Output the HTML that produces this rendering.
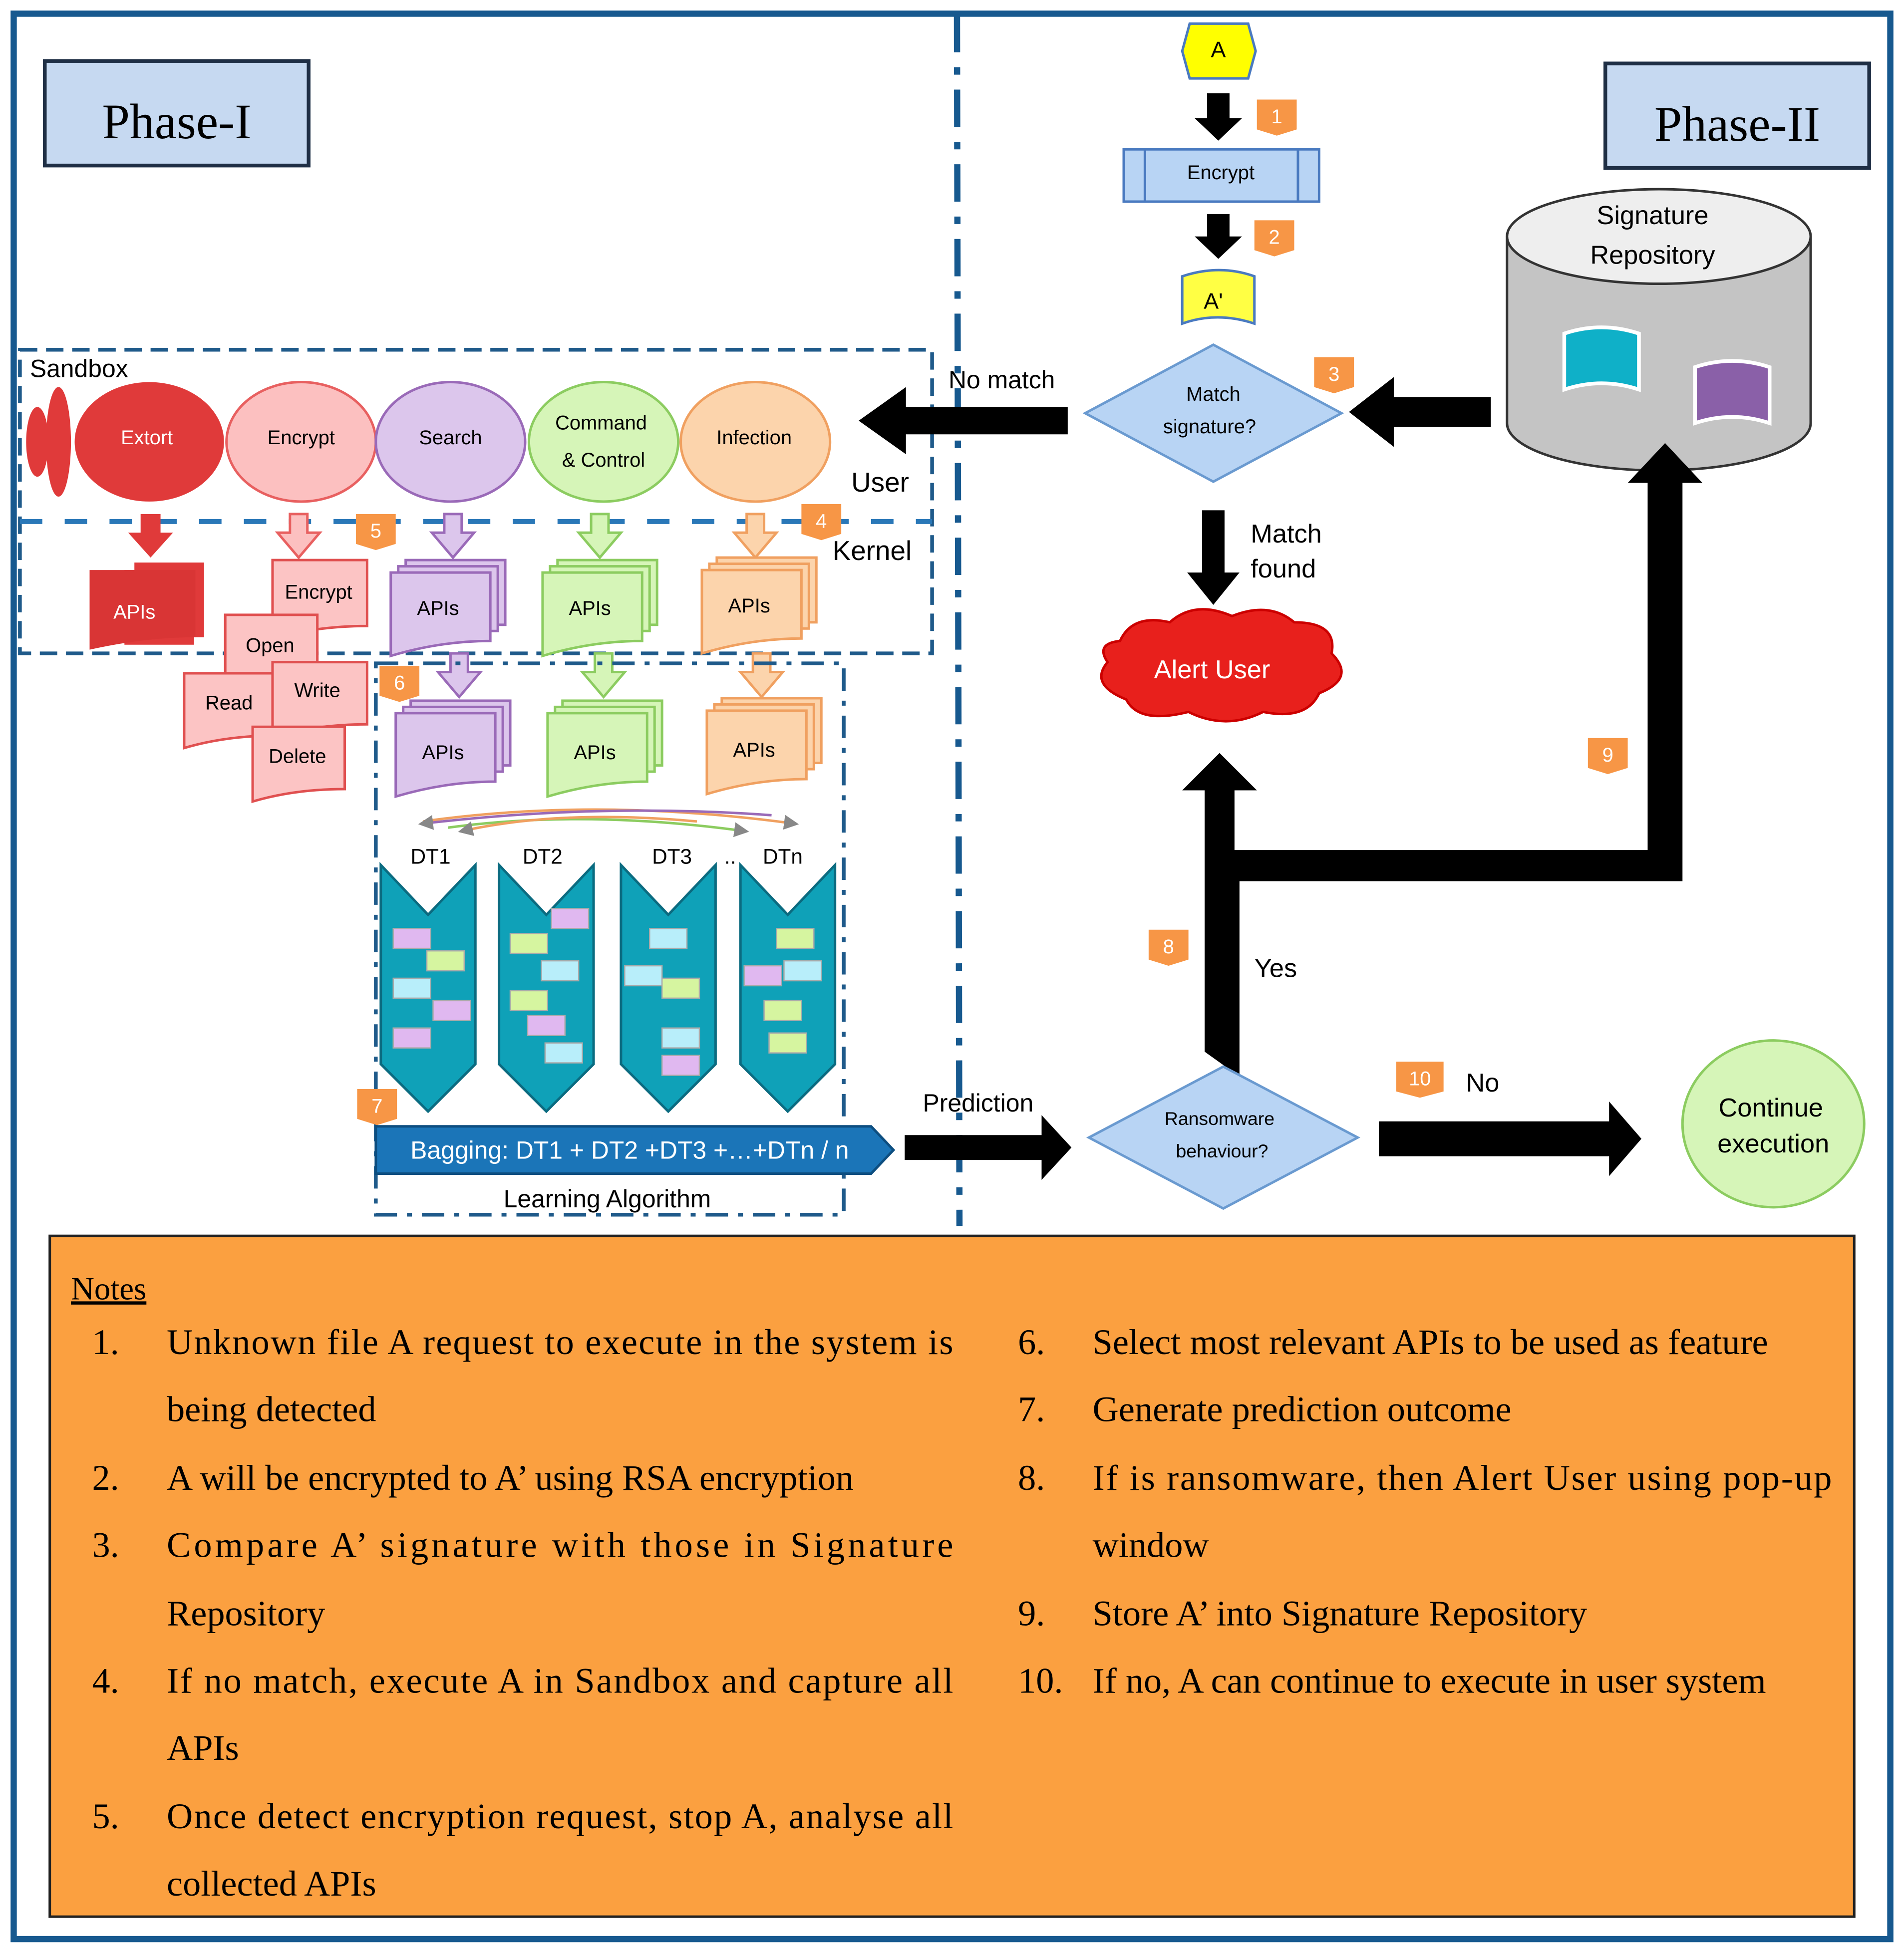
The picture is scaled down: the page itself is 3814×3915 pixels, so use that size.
<!DOCTYPE html>
<html><head><meta charset="utf-8"><style>
html,body{margin:0;padding:0;background:#fff}
svg{display:block}
text{font-family:"Liberation Sans",sans-serif}
text.s,.s text{font-family:"Liberation Serif",serif}
</style></head><body>
<svg width="3814" height="3915" viewBox="0 0 1530 1570" preserveAspectRatio="none" xmlns="http://www.w3.org/2000/svg">
<defs>
<marker id="ah" markerWidth="6" markerHeight="6" refX="5" refY="3" orient="auto"><path d="M0,0L6,3L0,6z" fill="#888"/></marker>
</defs>
<rect x="0" y="0" width="1530" height="1570" fill="#fff"/>
<rect x="11" y="11" width="1508" height="1547" fill="none" stroke="#17598f" stroke-width="5"/>
<line x1="769" y1="12" x2="771" y2="985" stroke="#17598f" stroke-width="5" stroke-dasharray="30,12,6,12"/>
<rect x="36" y="49" width="212" height="84" fill="#c6d9f1" stroke="#1f2f45" stroke-width="3"/>
<text x="142" y="111" class="s" font-size="40" text-anchor="middle">Phase-I</text>
<rect x="1290" y="51" width="212" height="84" fill="#c6d9f1" stroke="#1f2f45" stroke-width="3"/>
<text x="1396" y="113" class="s" font-size="40" text-anchor="middle">Phase-II</text>
<rect x="16" y="281" width="733" height="244" fill="none" stroke="#1f5a8a" stroke-width="3" stroke-dasharray="14,7"/>
<line x1="16" y1="419" x2="749" y2="419" stroke="#2a78b8" stroke-width="4" stroke-dasharray="18,18"/>
<text x="24" y="303" font-size="20">Sandbox</text>
<text x="684" y="395" font-size="22">User</text>
<text x="669" y="450" font-size="22">Kernel</text>
<ellipse cx="30" cy="355" rx="9" ry="28" fill="#e03a3a"/>
<ellipse cx="47" cy="355" rx="10" ry="44" fill="#e03a3a"/>
<ellipse cx="120" cy="355" rx="60" ry="48" fill="#e03a3a"/>
<text x="118" y="357" font-size="16" fill="#fff" text-anchor="middle">Extort</text>
<ellipse cx="242" cy="355" rx="60" ry="48" fill="#fcc0c0" stroke="#e86060" stroke-width="2"/>
<text x="242" y="357" font-size="16" text-anchor="middle">Encrypt</text>
<ellipse cx="362" cy="355" rx="60" ry="48" fill="#dcc6ec" stroke="#9a6ab8" stroke-width="2"/>
<text x="362" y="357" font-size="16" text-anchor="middle">Search</text>
<ellipse cx="485" cy="355" rx="60" ry="48" fill="#d6f5b8" stroke="#8ccc60" stroke-width="2"/>
<text x="483" y="345" font-size="16" text-anchor="middle">Command</text>
<text x="485" y="375" font-size="16" text-anchor="middle">&amp; Control</text>
<ellipse cx="607" cy="355" rx="60" ry="48" fill="#fcd4ac" stroke="#f0a060" stroke-width="2"/>
<text x="606" y="357" font-size="16" text-anchor="middle">Infection</text>
<g stroke-width="2">
<path d="M113,413h16v15h10l-18,20l-18,-20h10z" fill="#e03a3a"/>
<path d="M233,413h14v15h10l-17,20l-17,-20h10z" fill="#fcc0c0" stroke="#e86060"/>
<path d="M357,413h14v15h10l-17,20l-17,-20h10z" fill="#dcc6ec" stroke="#9a6ab8"/>
<path d="M475,413h14v15h10l-17,20l-17,-20h10z" fill="#d6f5b8" stroke="#8ccc60"/>
<path d="M600,413h14v15h10l-17,20l-17,-20h10z" fill="#fcd4ac" stroke="#f0a060"/>
<path d="M362,525h14v15h10l-17,20l-17,-20h10z" fill="#dcc6ec" stroke="#9a6ab8"/>
<path d="M478,525h14v15h10l-17,20l-17,-20h10z" fill="#d6f5b8" stroke="#8ccc60"/>
<path d="M605,525h14v15h10l-17,20l-17,-20h10z" fill="#fcd4ac" stroke="#f0a060"/>
</g>
<g stroke-width="2">
<path d="M108,452h56v60h-56z" fill="#e03a3a"/><path d="M100,458h56v60h-56z" fill="#e03a3a"/>
<path d="M72,458h85v54q-40,0 -85,10z" fill="#d93535"/>
<text x="108" y="497" font-size="16" fill="#fff" text-anchor="middle">APIs</text>
<g fill="#dcc6ec" stroke="#9a6ab8"><rect x="326" y="450" width="80" height="52"/><rect x="320" y="455" width="80" height="52"/><path d="M314,460h80v55q-40,0 -80,12z"/></g>
<text x="352" y="494" font-size="16" text-anchor="middle">APIs</text>
<g fill="#d6f5b8" stroke="#8ccc60"><rect x="448" y="450" width="80" height="52"/><rect x="442" y="455" width="80" height="52"/><path d="M436,460h80v55q-40,0 -80,12z"/></g>
<text x="474" y="494" font-size="16" text-anchor="middle">APIs</text>
<g fill="#fcd4ac" stroke="#f0a060"><rect x="576" y="448" width="80" height="52"/><rect x="570" y="453" width="80" height="52"/><path d="M564,458h80v55q-40,0 -80,12z"/></g>
<text x="602" y="492" font-size="16" text-anchor="middle">APIs</text>
<g fill="#dcc6ec" stroke="#9a6ab8"><rect x="330" y="563" width="80" height="52"/><rect x="324" y="568" width="80" height="52"/><path d="M318,573h80v55q-40,0 -80,12z"/></g>
<text x="356" y="610" font-size="16" text-anchor="middle">APIs</text>
<g fill="#d6f5b8" stroke="#8ccc60"><rect x="452" y="563" width="80" height="52"/><rect x="446" y="568" width="80" height="52"/><path d="M440,573h80v55q-40,0 -80,12z"/></g>
<text x="478" y="610" font-size="16" text-anchor="middle">APIs</text>
<g fill="#fcd4ac" stroke="#f0a060"><rect x="580" y="561" width="80" height="52"/><rect x="574" y="566" width="80" height="52"/><path d="M568,571h80v55q-40,0 -80,12z"/></g>
<text x="606" y="608" font-size="16" text-anchor="middle">APIs</text>
<g fill="#fcc4c4" stroke="#e05050">
<path d="M219,450h76v53q-40,0 -76,10z"/>
<path d="M181,494h74v50q-40,0 -74,10z"/>
<path d="M148,541h74v50q-40,0 -74,10z"/>
<path d="M219,532h76v50q-40,0 -76,10z"/>
<path d="M203,584h74v50q-40,0 -74,10z"/>
</g>
<text x="256" y="481" font-size="16" text-anchor="middle">Encrypt</text>
<text x="217" y="524" font-size="16" text-anchor="middle">Open</text>
<text x="184" y="570" font-size="16" text-anchor="middle">Read</text>
<text x="255" y="560" font-size="16" text-anchor="middle">Write</text>
<text x="239" y="613" font-size="16" text-anchor="middle">Delete</text>
</g>
<rect x="302" y="533" width="376" height="443" fill="none" stroke="#1f5a8a" stroke-width="3" stroke-dasharray="18,8,4,8"/>
<g fill="none" stroke-width="2" marker-end="url(#ah)">
<path d="M340,660 Q480,640 640,662" stroke="#f0a060"/>
<path d="M620,655 Q480,645 338,662" stroke="#9a6ab8"/>
<path d="M360,665 Q470,650 600,668" stroke="#8ccc60"/>
<path d="M560,660 Q450,650 370,668" stroke="#f0a060"/>
</g>
<text x="346" y="694" font-size="17" text-anchor="middle">DT1</text>
<text x="436" y="694" font-size="17" text-anchor="middle">DT2</text>
<text x="540" y="694" font-size="17" text-anchor="middle">DT3</text>
<text x="582" y="694" font-size="17">..</text>
<text x="629" y="694" font-size="17" text-anchor="middle">DTn</text>
<g fill="#0fa1b8" stroke="#0b6b80" stroke-width="2">
<path d="M306,695l38,40l38,-40v160l-38,38l-38,-38z"/>
<path d="M401,695l38,40l38,-40v160l-38,38l-38,-38z"/>
<path d="M499,695l38,40l38,-40v160l-38,38l-38,-38z"/>
<path d="M595,695l38,40l38,-40v160l-38,38l-38,-38z"/>
</g>
<g stroke="#aaa" stroke-width="1">
<rect x="316" y="746" width="30" height="16" fill="#e0b8f0"/><rect x="343" y="764" width="30" height="16" fill="#d6f5a0"/><rect x="316" y="786" width="30" height="16" fill="#b8eefa"/><rect x="348" y="804" width="30" height="16" fill="#e0b8f0"/><rect x="316" y="826" width="30" height="16" fill="#e0b8f0"/>
<rect x="443" y="730" width="30" height="16" fill="#e0b8f0"/><rect x="410" y="750" width="30" height="16" fill="#d6f5a0"/><rect x="435" y="772" width="30" height="16" fill="#b8eefa"/><rect x="410" y="796" width="30" height="16" fill="#d6f5a0"/><rect x="424" y="816" width="30" height="16" fill="#e0b8f0"/><rect x="438" y="838" width="30" height="16" fill="#b8eefa"/>
<rect x="522" y="746" width="30" height="16" fill="#b8eefa"/><rect x="502" y="776" width="30" height="16" fill="#b8eefa"/><rect x="532" y="786" width="30" height="16" fill="#d6f5a0"/><rect x="532" y="826" width="30" height="16" fill="#b8eefa"/><rect x="532" y="848" width="30" height="16" fill="#e0b8f0"/>
<rect x="624" y="746" width="30" height="16" fill="#d6f5a0"/><rect x="598" y="776" width="30" height="16" fill="#e0b8f0"/><rect x="630" y="772" width="30" height="16" fill="#b8eefa"/><rect x="614" y="804" width="30" height="16" fill="#d6f5a0"/><rect x="618" y="830" width="30" height="16" fill="#d6f5a0"/>
</g>
<path d="M302,905h398l18,19l-18,19h-398z" fill="#1b75b8" stroke="#0d4e80" stroke-width="2"/>
<text x="506" y="931" font-size="20" fill="#fff" text-anchor="middle">Bagging: DT1 + DT2 +DT3 +…+DTn / n</text>
<text x="488" y="970" font-size="20" text-anchor="middle">Learning Algorithm</text>
<g font-size="16" fill="#fff" text-anchor="middle">
<path d="M1010,80h32v24l-16,5l-16,-5z" fill="#f79646"/><text x="1026" y="99">1</text>
<path d="M1008,177h32v24l-16,5l-16,-5z" fill="#f79646"/><text x="1024" y="196">2</text>
<path d="M1056,287h32v24l-16,5l-16,-5z" fill="#f79646"/><text x="1072" y="306">3</text>
<path d="M644,405h32v24l-16,5l-16,-5z" fill="#f79646"/><text x="660" y="424">4</text>
<path d="M286,413h32v24l-16,5l-16,-5z" fill="#f79646"/><text x="302" y="432">5</text>
<path d="M305,535h32v24l-16,5l-16,-5z" fill="#f79646"/><text x="321" y="554">6</text>
<path d="M287,875h32v24l-16,5l-16,-5z" fill="#f79646"/><text x="303" y="894">7</text>
<path d="M923,747h32v24l-16,5l-16,-5z" fill="#f79646"/><text x="939" y="766">8</text>
<path d="M1276,593h32v24l-16,5l-16,-5z" fill="#f79646"/><text x="1292" y="612">9</text>
<path d="M1122,853h38v24l-19,5l-19,-5z" fill="#f79646"/><text x="1141" y="872">10</text>
</g>
<path d="M956,19h47l6,22l-6,22h-47l-6,-22z" fill="#ffff00" stroke="#4a7ac0" stroke-width="2"/>
<text x="979" y="46" font-size="18" text-anchor="middle">A</text>
<path d="M970,75h18v20h10l-19,18l-19,-18h10z" fill="#000"/>
<rect x="903" y="120" width="157" height="42" fill="#b8d4f4" stroke="#4a7ac0" stroke-width="2"/>
<line x1="920" y1="120" x2="920" y2="162" stroke="#4a7ac0" stroke-width="2"/><line x1="1043" y1="120" x2="1043" y2="162" stroke="#4a7ac0" stroke-width="2"/>
<text x="981" y="144" font-size="16" text-anchor="middle">Encrypt</text>
<path d="M970,172h18v18h10l-19,18l-19,-18h10z" fill="#000"/>
<path d="M950,222q30,-10 58,0v38q-30,-10 -58,0z" fill="#ffff44" stroke="#4a7ac0" stroke-width="2"/>
<text x="975" y="248" font-size="18" text-anchor="middle">A'</text>
<path d="M975,277l103,55l-103,55l-103,-55z" fill="#b8d4f4" stroke="#6a9ad0" stroke-width="2"/>
<text x="975" y="322" font-size="16" text-anchor="middle">Match</text>
<text x="972" y="348" font-size="16" text-anchor="middle">signature?</text>
<path d="M858,327v22h-130v16l-38,-27l38,-27v16z" fill="#000"/>
<text x="805" y="312" font-size="20" text-anchor="middle">No match</text>
<path d="M1198,319v24h-78v16l-36,-28l36,-28v16z" fill="#000"/>
<path d="M966,410h18v50h12l-21,26l-21,-26h12z" fill="#000"/>
<text x="1005" y="436" font-size="21">Match</text><text x="1005" y="464" font-size="21">found</text>
<path d="M900,515q10,-22 40,-15q20,-18 50,-5q30,-12 50,5q35,0 30,25q20,20 -10,32q-10,22 -45,15q-30,15 -60,0q-40,10 -50,-10q-30,-12 -15,-30q-10,-15 10,-17z" fill="#e8201c" stroke="#c00" stroke-width="2"/>
<text x="974" y="545" font-size="21" fill="#fff" text-anchor="middle">Alert User</text>
<path d="M1211,190v150a122,38 0 0 0 244,0v-150" fill="#c4c4c4" stroke="#333" stroke-width="2"/>
<ellipse cx="1333" cy="190" rx="122" ry="38" fill="#eee" stroke="#333" stroke-width="2"/>
<text x="1328" y="180" font-size="21" text-anchor="middle">Signature</text>
<text x="1328" y="212" font-size="21" text-anchor="middle">Repository</text>
<path d="M1257,268q30,-10 60,0v45q-30,-10 -60,0z" fill="#0fb0c8" stroke="#fff" stroke-width="3"/>
<path d="M1362,295q30,-10 60,0v45q-30,-10 -60,0z" fill="#8a60a8" stroke="#fff" stroke-width="3"/>
<path d="M968,845v-210h-18l30,-30l30,30h-18v48h332v-295h-16l30,-32l30,32h-16v320h-356v157z" fill="#000"/>
<text x="1008" y="785" font-size="21">Yes</text>
<path d="M983,857l108,57l-108,57l-108,-57z" fill="#b8d4f4" stroke="#6a9ad0" stroke-width="2"/>
<text x="980" y="904" font-size="15" text-anchor="middle">Ransomware</text>
<text x="982" y="930" font-size="15" text-anchor="middle">behaviour?</text>
<path d="M727,912h110v-16l24,26l-24,26v-16h-110z" fill="#000"/>
<text x="786" y="893" font-size="20" text-anchor="middle">Prediction</text>
<path d="M1108,901h185v-16l26,30l-26,30v-16h-185z" fill="#000"/>
<text x="1178" y="877" font-size="21">No</text>
<ellipse cx="1425" cy="903" rx="73" ry="67" fill="#d6f5b8" stroke="#8ccc60" stroke-width="2"/>
<text x="1423" y="897" font-size="21" text-anchor="middle">Continue</text>
<text x="1425" y="926" font-size="21" text-anchor="middle">execution</text>
<rect x="40" y="993" width="1450" height="547" fill="#fba040" stroke="#222" stroke-width="2"/>
<g class="s" font-size="29">
<text x="57" y="1044" font-size="26" text-decoration="underline">Notes</text>
<text x="74" y="1088">1.</text><text x="134" y="1088" textLength="632">Unknown file A request to execute in the system is</text>
<text x="134" y="1142">being detected</text>
<text x="74" y="1197">2.</text><text x="134" y="1197">A will be encrypted to A’ using RSA encryption</text>
<text x="74" y="1251">3.</text><text x="134" y="1251" textLength="632">Compare A’ signature with those in Signature</text>
<text x="134" y="1306">Repository</text>
<text x="74" y="1360">4.</text><text x="134" y="1360" textLength="632">If no match, execute A in Sandbox and capture all</text>
<text x="134" y="1414">APIs</text>
<text x="74" y="1469">5.</text><text x="134" y="1469" textLength="632">Once detect encryption request, stop A, analyse all</text>
<text x="134" y="1523">collected APIs</text>
<text x="818" y="1088">6.</text><text x="878" y="1088">Select most relevant APIs to be used as feature</text>
<text x="818" y="1142">7.</text><text x="878" y="1142">Generate prediction outcome</text>
<text x="818" y="1197">8.</text><text x="878" y="1197" textLength="594">If is ransomware, then Alert User using pop-up</text>
<text x="878" y="1251">window</text>
<text x="818" y="1306">9.</text><text x="878" y="1306">Store A’ into Signature Repository</text>
<text x="818" y="1360">10.</text><text x="878" y="1360">If no, A can continue to execute in user system</text>
</g>
</svg>
</body></html>
